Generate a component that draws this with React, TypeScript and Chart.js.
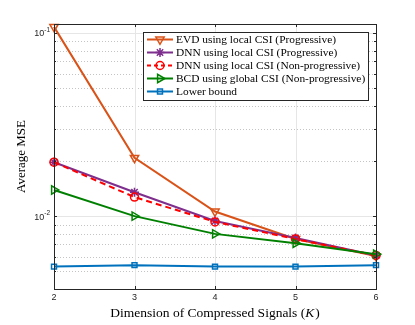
import React, { useEffect, useRef } from "react";
import { Chart, registerables } from "chart.js";

Chart.register(...registerables);

const kValues = [2, 3, 4, 5, 6];
const evdLocal = [0.108, 0.0208, 0.0106, 0.0075, 0.00605];
const dnnProgressive = [0.0197, 0.0135, 0.0094, 0.0076, 0.0061];
const dnnNonProgressive = [0.0197, 0.0127, 0.0093, 0.0075, 0.0061];
const bcdGlobal = [0.0139, 0.01, 0.008, 0.0071, 0.0062];
const lowerBound = [0.0053, 0.0054, 0.0053, 0.0053, 0.0054];

const seriesLabels = [
  "EVD using local CSI (Progressive)",
  "DNN using local CSI (Progressive)",
  "DNN using local CSI (Non-progressive)",
  "BCD using global CSI (Non-progressive)",
  "Lower bound",
];

const xTicks = [2, 3, 4, 5, 6];
const yMajorTicks = [0.01, 0.1];
const yMajorExponents = ["-2", "-1"];
const yMinorTicks = [0.004, 0.005, 0.006, 0.007, 0.008, 0.009, 0.02, 0.03, 0.04, 0.05, 0.06, 0.07, 0.08, 0.09];

const xTitleMain = "Dimension of Compressed Signals (";
const xTitleVar = "K";
const xTitleEnd = ")";
const yTitle = "Average MSE";

const AXIS = "#262626";
const SERIF = "'Liberation Serif', 'DejaVu Serif', serif";
const SANS = "'Liberation Sans', Arial, sans-serif";

type Style = {
  color: string;
  marker: string;
  rotation: number;
  radius: number;
  dash: number[];
};

const styles: Style[] = [
  { color: "#D95319", marker: "triangle", rotation: 180, radius: 4.8, dash: [] },
  { color: "#7E2F8E", marker: "star", rotation: 0, radius: 4.5, dash: [] },
  { color: "#FF0000", marker: "circle", rotation: 0, radius: 4, dash: [6, 4] },
  { color: "#008000", marker: "triangle", rotation: 90, radius: 4.8, dash: [] },
  { color: "#0072BD", marker: "rect", rotation: 0, radius: 3.5, dash: [] },
];

const seriesData = [evdLocal, dnnProgressive, dnnNonProgressive, bcdGlobal, lowerBound];

function drawMarker(ctx: CanvasRenderingContext2D, s: Style, x: number, y: number) {
  const r = s.radius;
  ctx.save();
  ctx.setLineDash([]);
  ctx.strokeStyle = s.color;
  ctx.lineWidth = 1.5;
  ctx.beginPath();
  if (s.marker === "triangle") {
    const rad = (s.rotation * Math.PI) / 180;
    for (let i = 0; i < 3; i++) {
      const a = -Math.PI / 2 + rad + (i * 2 * Math.PI) / 3;
      const px = x + r * Math.cos(a);
      const py = y + r * Math.sin(a);
      if (i === 0) ctx.moveTo(px, py);
      else ctx.lineTo(px, py);
    }
    ctx.closePath();
  } else if (s.marker === "circle") {
    ctx.arc(x, y, r, 0, Math.PI * 2);
  } else if (s.marker === "rect") {
    const h = r * Math.SQRT1_2;
    ctx.rect(x - h, y - h, 2 * h, 2 * h);
  } else if (s.marker === "star") {
    for (let i = 0; i < 4; i++) {
      const a = (i * Math.PI) / 4;
      ctx.moveTo(x - r * Math.cos(a), y - r * Math.sin(a));
      ctx.lineTo(x + r * Math.cos(a), y + r * Math.sin(a));
    }
  }
  ctx.stroke();
  ctx.restore();
}

const decorPlugin = {
  id: "matlabDecor",
  beforeDatasetsDraw(chart: any) {
    const { ctx, chartArea } = chart;
    const { left, right, top, bottom } = chartArea;
    const xs = chart.scales.x;
    const ys = chart.scales.y;
    ctx.save();
    ctx.lineWidth = 1;
    ctx.strokeStyle = "#c4c4c4";
    ctx.setLineDash([1, 2]);
    yMinorTicks.forEach((v) => {
      const py = Math.round(ys.getPixelForValue(v)) + 0.5;
      ctx.beginPath();
      ctx.moveTo(left, py);
      ctx.lineTo(right, py);
      ctx.stroke();
    });
    ctx.setLineDash([]);
    ctx.strokeStyle = "#e6e6e6";
    yMajorTicks.forEach((v) => {
      const py = Math.round(ys.getPixelForValue(v)) + 0.5;
      ctx.beginPath();
      ctx.moveTo(left, py);
      ctx.lineTo(right, py);
      ctx.stroke();
    });
    xTicks.forEach((v) => {
      const px = Math.round(xs.getPixelForValue(v)) + 0.5;
      ctx.beginPath();
      ctx.moveTo(px, top);
      ctx.lineTo(px, bottom);
      ctx.stroke();
    });
    ctx.restore();
  },
  afterDatasetsDraw(chart: any) {
    const { ctx, chartArea } = chart;
    const { left, right, top, bottom } = chartArea;
    const xs = chart.scales.x;
    const ys = chart.scales.y;
    ctx.save();
    ctx.strokeStyle = AXIS;
    ctx.lineWidth = 1;
    ctx.setLineDash([]);
    ctx.strokeRect(Math.round(left) + 0.5, Math.round(top) + 0.5, Math.round(right - left), Math.round(bottom - top));
    const tl = 3;
    xTicks.forEach((v) => {
      const px = Math.round(xs.getPixelForValue(v)) + 0.5;
      ctx.beginPath();
      ctx.moveTo(px, bottom);
      ctx.lineTo(px, bottom - tl);
      ctx.moveTo(px, top);
      ctx.lineTo(px, top + tl);
      ctx.stroke();
    });
    yMajorTicks.concat(yMinorTicks).forEach((v, i) => {
      const len = i < yMajorTicks.length ? tl : 2;
      const py = Math.round(ys.getPixelForValue(v)) + 0.5;
      ctx.beginPath();
      ctx.moveTo(left, py);
      ctx.lineTo(left + len, py);
      ctx.moveTo(right, py);
      ctx.lineTo(right - len, py);
      ctx.stroke();
    });
    ctx.fillStyle = AXIS;
    ctx.font = `9px ${SANS}`;
    ctx.textAlign = "center";
    ctx.textBaseline = "middle";
    xTicks.forEach((v) => {
      ctx.fillText(String(v), xs.getPixelForValue(v), bottom + 9);
    });
    yMajorTicks.forEach((v, i) => {
      const py = ys.getPixelForValue(v);
      ctx.font = `6.5px ${SANS}`;
      const ew = ctx.measureText(yMajorExponents[i]).width;
      const xEnd = left - 4;
      ctx.textAlign = "right";
      ctx.textBaseline = "middle";
      ctx.fillText(yMajorExponents[i], xEnd, py - 3);
      ctx.font = `9px ${SANS}`;
      ctx.fillText("10", xEnd - ew, py + 1);
    });
    ctx.fillStyle = "#000";
    ctx.textBaseline = "middle";
    const fs = 13.5;
    ctx.font = `${fs}px ${SERIF}`;
    const w1 = ctx.measureText(xTitleMain).width;
    const w3 = ctx.measureText(xTitleEnd).width;
    ctx.font = `italic ${fs}px ${SERIF}`;
    const w2 = ctx.measureText(xTitleVar).width;
    const total = w1 + w2 + w3 + 1;
    let tx = (left + right) / 2 - total / 2;
    const ty = bottom + 24;
    ctx.textAlign = "left";
    ctx.font = `${fs}px ${SERIF}`;
    ctx.fillText(xTitleMain, tx, ty);
    tx += w1;
    ctx.font = `italic ${fs}px ${SERIF}`;
    ctx.fillText(xTitleVar, tx, ty);
    tx += w2 + 1;
    ctx.font = `${fs}px ${SERIF}`;
    ctx.fillText(xTitleEnd, tx, ty);

    ctx.save();
    ctx.translate(22, (top + bottom) / 2);
    ctx.rotate(-Math.PI / 2);
    ctx.textAlign = "center";
    ctx.font = `13px ${SERIF}`;
    ctx.fillText(yTitle, 0, 0);
    ctx.restore();

    const bx = 143.5;
    const by = 32.5;
    const bw = 225;
    const bh = 68;
    ctx.fillStyle = "#ffffff";
    ctx.fillRect(bx, by, bw, bh);
    ctx.strokeStyle = "#262626";
    ctx.lineWidth = 1;
    ctx.strokeRect(bx, by, bw, bh);
    ctx.font = `11.4px ${SERIF}`;
    ctx.textAlign = "left";
    ctx.textBaseline = "middle";
    chart.data.datasets.forEach((ds: any, i: number) => {
      const s = styles[i];
      const cy = 39.5 + i * 13;
      ctx.save();
      ctx.strokeStyle = s.color;
      ctx.lineWidth = 2;
      ctx.setLineDash(s.dash.length ? [4, 3] : []);
      ctx.beginPath();
      ctx.moveTo(147, cy);
      ctx.lineTo(173, cy);
      ctx.stroke();
      ctx.restore();
      drawMarker(ctx, s, 160, cy);
      ctx.fillStyle = "#000";
      ctx.fillText(ds.label, 176, cy + 0.5);
    });
    ctx.restore();
  },
};

export default function App() {
  const canvasRef = useRef<HTMLCanvasElement | null>(null);

  useEffect(() => {
    document.body.style.margin = "0";
    const canvas = canvasRef.current;
    if (!canvas) return;
    const datasets = seriesData.map((vals, i) => {
      const s = styles[i];
      return {
        label: seriesLabels[i],
        data: kValues.map((k, j) => ({ x: k, y: vals[j] })),
        borderColor: s.color,
        backgroundColor: s.color,
        borderWidth: 2,
        borderDash: s.dash,
        pointStyle: s.marker,
        pointRotation: s.rotation,
        pointRadius: s.radius,
        pointBorderWidth: 1.5,
        pointBorderColor: s.color,
        pointBackgroundColor: "rgba(0,0,0,0)",
        tension: 0,
        fill: false,
        clip: false as any,
        order: seriesData.length - i,
      };
    });
    const chart = new Chart(canvas, {
      type: "line",
      data: { datasets },
      options: {
        responsive: false,
        animation: false,
        events: [],
        layout: { padding: { left: 54, right: 39, top: 24, bottom: 36 } },
        scales: {
          x: { type: "linear", min: 2, max: 6, display: false },
          y: { type: "logarithmic", min: 0.004, max: 0.112, display: false },
        },
        plugins: {
          legend: { display: false },
          tooltip: { enabled: false },
        },
      },
      plugins: [decorPlugin],
    });
    return () => chart.destroy();
  }, []);

  return (
    <div style={{ width: 415, height: 325, background: "#fff" }}>
      <canvas ref={canvasRef} width={415} height={325} style={{ display: "block" }} />
    </div>
  );
}
